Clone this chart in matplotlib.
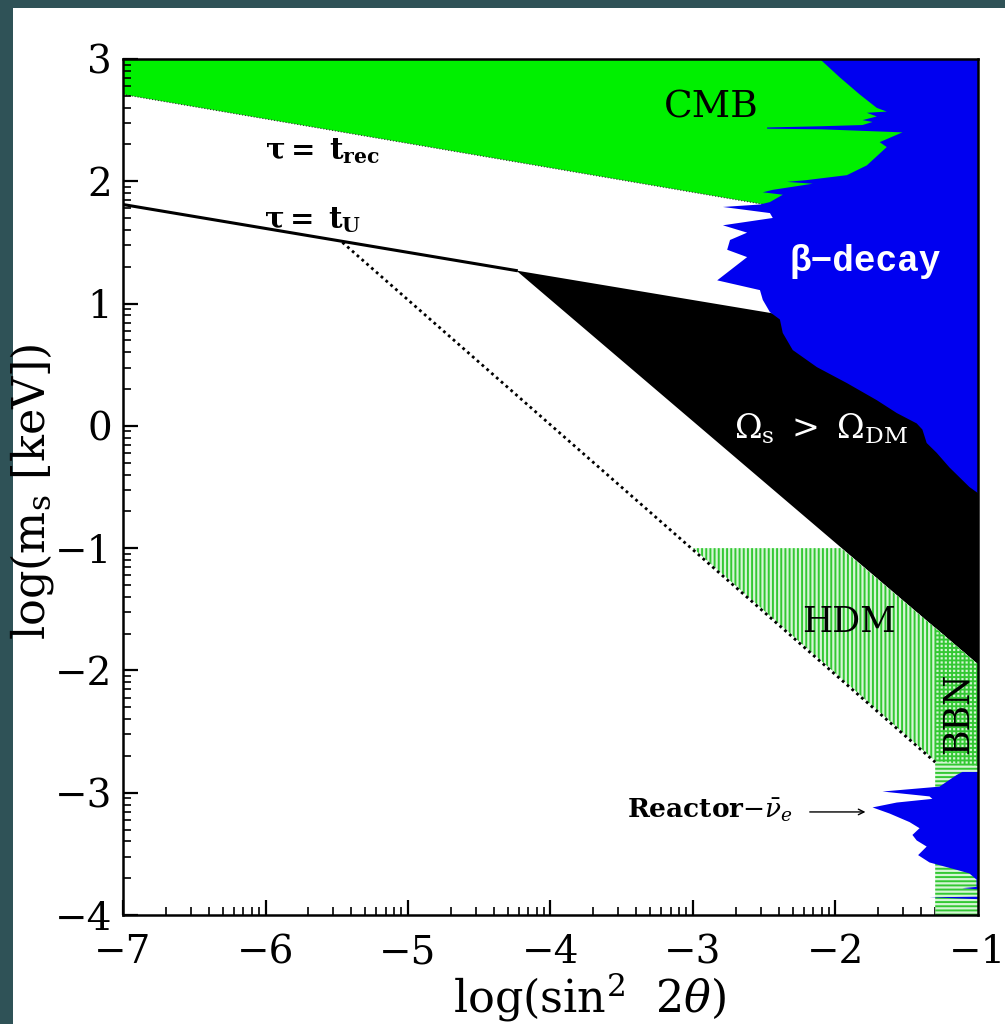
import numpy as np
import matplotlib.pyplot as plt
from matplotlib.patches import Rectangle
from matplotlib.ticker import FixedLocator

plt.rcParams['font.family'] = 'DejaVu Serif'
plt.rcParams['mathtext.fontset'] = 'dejavuserif'
plt.rcParams['hatch.linewidth'] = 1.4

# lifetime lines  tau = t_rec, tau = t_U  (log m vs log sin^2 2theta)
t_rec_x = [-7.0, -1.0]
t_rec_y = [2.71, 1.51]
t_u_x = [-7.0, -4.24]
t_u_y = [1.81, 1.27]
dot_x = [-5.46, -1.30]
dot_y = [1.50, -2.75]

# CMB excluded region (green), cut by beta-decay on the right
cmb_x = [-7.0, -1.0, -1.0, -7.0]
cmb_y = [3.0, 3.0, 1.51, 2.71]

# Omega_s > Omega_DM (black)
dm_x = [-4.24, -1.0, -1.0]
dm_y = [1.27, 0.64, -1.95]

# beta-decay bound, left edge from top to bottom
beta_x = [-2.11, -1.97, -1.83, -1.71, -1.64, -1.78, -1.71, -1.81, -1.74, -1.81,
          -2.10, -2.48, -2.48, -2.10, -1.53, -1.69, -1.64, -1.78, -1.92, -2.20,
          -2.34, -2.16, -2.44, -2.51, -2.37, -2.46, -2.53, -2.79, -2.46, -2.44,
          -2.79, -2.62, -2.74, -2.76, -2.62, -2.83, -2.53, -2.51, -2.46, -2.39,
          -2.37, -2.30, -2.13, -1.92, -1.71, -1.57, -1.43, -1.39, -1.36, -1.29,
          -1.20, -1.06, -1.00, -1.00]
beta_y = [3.00, 2.85, 2.71, 2.60, 2.57, 2.56, 2.53, 2.50, 2.485, 2.46,
          2.45, 2.44, 2.43, 2.425, 2.40, 2.32, 2.28, 2.13, 2.05, 2.01,
          1.995, 1.98, 1.93, 1.91, 1.89, 1.83, 1.81, 1.79, 1.74, 1.70,
          1.64, 1.58, 1.52, 1.44, 1.38, 1.19, 1.11, 1.03, 0.93, 0.87,
          0.76, 0.62, 0.48, 0.35, 0.21, 0.105, 0.02, -0.03, -0.14, -0.22,
          -0.34, -0.50, -0.55, 3.00]

# hot dark matter and BBN regions (hatched)
hdm_x = [-3.0, -1.96, -1.0, -1.0, -1.30]
hdm_y = [-1.0, -1.0, -1.95, -2.78, -2.74]
bbn_x = [-1.30, -1.0, -1.0, -1.30]
bbn_y = [-4.0, -4.0, -1.95, -1.65]

# reactor anti-nu_e bound (blue, bottom right)
reac_x = [-1.00, -1.11, -1.15, -1.27, -1.67, -1.34, -1.32, -1.57, -1.74, -1.62,
          -1.48, -1.41, -1.46, -1.43, -1.36, -1.42, -1.34, -1.15, -1.06, -1.01,
          -1.01, -1.11, -1.00, -1.00, -1.34, -1.00]
reac_y = [-2.83, -2.83, -2.855, -2.95, -2.99, -3.03, -3.05, -3.08, -3.12, -3.17,
          -3.24, -3.29, -3.345, -3.39, -3.44, -3.51, -3.57, -3.63, -3.66, -3.71,
          -3.77, -3.78, -3.79, -3.85, -3.855, -3.87]

xticks = [-7, -6, -5, -4, -3, -2, -1]
yticks = [-4, -3, -2, -1, 0, 1, 2, 3]

GREEN = '#00f000'
BLUE = '#0000f0'
HATCH = '#33c833'
HATCH_BG = '#d6f6d6'

fig = plt.figure(figsize=(10.05, 10.24), dpi=100, facecolor='#2f5257')
fig.add_artist(Rectangle((13 / 1005, 0), 1, 1 - 8 / 1024, transform=fig.transFigure,
                         facecolor='white', edgecolor='none', zorder=0))
ax = fig.add_axes([0.1224, 0.1064, 0.8507, 0.836])
ax.set_facecolor('white')

ax.fill(cmb_x, cmb_y, color=GREEN, lw=0, zorder=1)
ax.plot(t_rec_x, t_rec_y, color='#333333', lw=0.8, ls=':', zorder=1.5)
ax.fill(dm_x, dm_y, color='black', lw=0, zorder=2)
ax.fill(beta_x, beta_y, color=BLUE, lw=0, zorder=3)

# hatched regions: pale background first, then the line patterns
ax.fill(hdm_x, hdm_y, facecolor=HATCH_BG, lw=0, zorder=2.5)
ax.fill(bbn_x, bbn_y, facecolor=HATCH_BG, lw=0, zorder=2.5)
ax.fill(hdm_x, hdm_y, facecolor='none', edgecolor=HATCH, hatch='||||', lw=0, zorder=2.6)
ax.fill(bbn_x, bbn_y, facecolor='none', edgecolor=HATCH, hatch='----', lw=0, zorder=2.6)

ax.fill(reac_x, reac_y, color=BLUE, lw=0, zorder=3)

ax.plot(t_u_x, t_u_y, color='black', lw=2.2, zorder=4)
ax.plot(dot_x, dot_y, color='black', lw=2.0, ls=(0, (1, 1.3)), zorder=4)

# labels inside the plot
ax.text(-2.87, 2.60, 'CMB', fontsize=27, ha='center', va='center', zorder=5)
ax.text(-1.79, 1.34, 'β−decay', fontsize=26, color='white', fontweight='bold',
        family=['Liberation Mono', 'DejaVu Sans Mono'], ha='center', va='center', zorder=5)
ax.text(-2.10, -0.02, r'$\Omega_{\rm s}\ >\ \Omega_{\rm DM}$', fontsize=24, color='white',
        ha='center', va='center', zorder=5)
ax.text(-1.905, -1.60, 'HDM', fontsize=25, ha='center', va='center', zorder=5)
ax.text(-1.14, -2.35, 'BBN', fontsize=25, rotation=90, ha='center', va='center', zorder=5)
ax.text(-5.60, 2.25, r'$\mathbf{\tau = \ t_{rec}}$', fontsize=21, ha='center', va='center', zorder=5)
ax.text(-5.67, 1.68, r'$\mathbf{\tau = \ t_{U}}$', fontsize=21, ha='center', va='center', zorder=5)
ax.text(-2.88, -3.14, r'Reactor$-\bar{\nu}_e$', fontsize=19, fontweight='bold',
        ha='center', va='center', zorder=5)
ax.annotate('', xy=(-1.77, -3.157), xytext=(-2.20, -3.157),
            arrowprops=dict(arrowstyle='->', color='black', lw=1.0), zorder=5)

ax.set_xlim(-7, -1)
ax.set_ylim(-4, 3)

# log-style minor ticks inside every unit interval
minor = [n + np.log10(k) for n in range(-7, 3) for k in range(2, 10)]
ax.xaxis.set_major_locator(FixedLocator(xticks))
ax.yaxis.set_major_locator(FixedLocator(yticks))
ax.xaxis.set_minor_locator(FixedLocator(minor))
ax.yaxis.set_minor_locator(FixedLocator(minor))
ax.tick_params(which='both', direction='in', top=False, right=False, color='black')
ax.tick_params(which='major', length=11, width=1.6, labelsize=28)
ax.tick_params(axis='x', which='major', pad=14)
ax.tick_params(axis='y', which='major', pad=8)
ax.tick_params(which='minor', length=6, width=1.2)
for s in ax.spines.values():
    s.set_linewidth(1.8)
    s.set_zorder(6)

ax.set_xlabel(r'log(sin$^2$  2$\theta$)', fontsize=32)
ax.xaxis.set_label_coords(0.546, -0.066)
ax.set_ylabel(r'log(m$_{\rm s}$ [keV])', fontsize=32)
ax.yaxis.set_label_coords(-0.078, 0.494)

fig.savefig('out.png', dpi=100, facecolor=fig.get_facecolor())
